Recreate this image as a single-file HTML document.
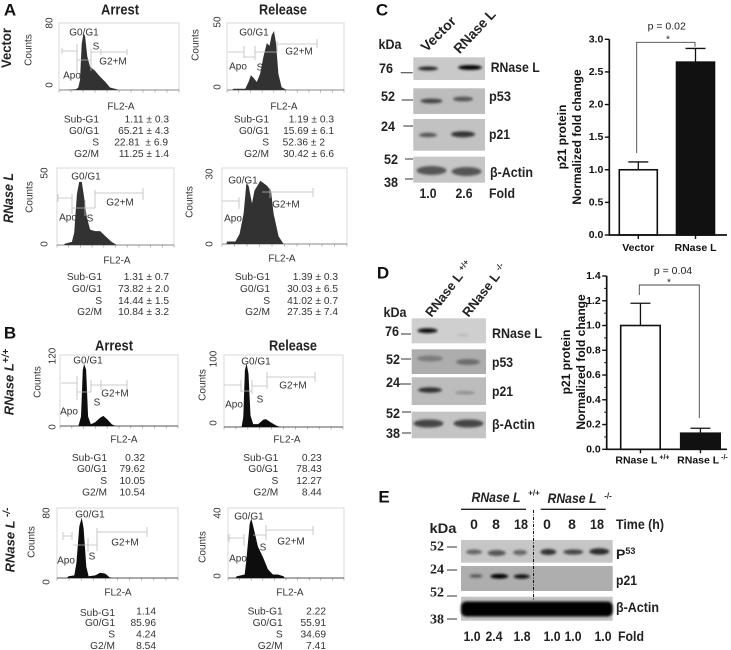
<!DOCTYPE html>
<html lang="en">
<head>
<meta charset="utf-8">
<title>Cell cycle and p21 figure</title>
<style>
html,body{margin:0;padding:0;background:#fff;width:731px;height:650px;overflow:hidden}
svg{display:block;filter:blur(0.3px)}
text{font-family:"Liberation Sans",Arial,sans-serif;dominant-baseline:central;fill:#222}
.h{font-size:10px;fill:#333}
.hm{font-size:10px;fill:#333;text-anchor:middle}
.s{font-size:10.2px;fill:#333;text-anchor:end}
.t{font-size:15px;font-weight:bold;text-anchor:middle;fill:#222}
.l{font-size:17px;font-weight:bold;text-anchor:middle;fill:#111}
.r{font-size:14px;font-weight:bold;font-style:italic;text-anchor:middle;fill:#222}
.b{font-size:14px;font-weight:bold;fill:#222}
.bm{font-size:14px;font-weight:bold;fill:#222;text-anchor:middle}
.sf{font-family:"Liberation Serif",serif;font-size:14px;font-weight:bold;text-anchor:middle;fill:#222}
.ax{font-size:10.5px;font-weight:bold;fill:#111;text-anchor:end}
.xl{font-size:10.5px;font-weight:bold;fill:#111;text-anchor:middle}
.yt{font-size:12px;font-weight:bold;fill:#111;text-anchor:middle}
.gate{fill:none;stroke:#bdbdbd;stroke-width:.8}
.tk{stroke:#333;stroke-width:1;fill:none}
</style>
</head>
<body>
<svg id="fig" xmlns="http://www.w3.org/2000/svg" width="731" height="650" viewBox="0 0 731 650">
<defs>
<filter id="b1" x="-40%" y="-80%" width="180%" height="260%"><feGaussianBlur stdDeviation="1.4"/></filter>
<filter id="b2" x="-40%" y="-80%" width="180%" height="260%"><feGaussianBlur stdDeviation="2.2"/></filter>
<filter id="b0" x="-5%" y="-5%" width="110%" height="110%"><feGaussianBlur stdDeviation="0.35"/></filter>
</defs>
<rect width="731" height="650" fill="#fff"/>

<!-- panel letters / titles -->
<text class="l" x="10" y="10">A</text>
<text class="l" x="10" y="333">B</text>
<text class="l" x="382" y="10">C</text>
<text class="l" x="383" y="273">D</text>
<text class="l" x="384" y="497">E</text>
<text class="t" x="120" y="10" textLength="38" lengthAdjust="spacingAndGlyphs">Arrest</text>
<text class="t" x="283" y="10" textLength="48" lengthAdjust="spacingAndGlyphs">Release</text>
<text class="t" x="114" y="346" textLength="38" lengthAdjust="spacingAndGlyphs">Arrest</text>
<text class="t" x="293" y="346" textLength="48" lengthAdjust="spacingAndGlyphs">Release</text>
<text class="r" style="font-style:normal" transform="translate(6 48) rotate(-90)" textLength="40" lengthAdjust="spacingAndGlyphs">Vector</text>
<text class="r" transform="translate(8 198) rotate(-90)" textLength="50" lengthAdjust="spacingAndGlyphs">RNase L</text>
<text class="r" style="font-size:13px" transform="translate(9 382) rotate(-90)">RNase L<tspan dy="-3" font-size="10">+/+</tspan></text>
<text class="r" style="font-size:13px" transform="translate(10 540) rotate(-90)">RNase L <tspan dy="-3" font-size="10">-/-</tspan></text>

<g id="histograms"></g>

<!-- gates -->
<g>
<path class="gate" d="M62 51H77M62 48v6M77 44v30M77 60H91M91 49v22M91 52H127M101 49v6M127 49v6"/>
<path class="gate" d="M228 52H244M244 46v12M244 57H255M255 46v14M255 52H277M277 41v12M277 44H317M317 39v9"/>
<path class="gate" d="M58 198H72M58 194v8M72 194v20M72 208H85M85 200v16M85 208H95M95 190v18M95 193H143M143 188v12"/>
<path class="gate" d="M222 201H239M239 197v12M262 192H313M313 188v9M270 188v10"/>
<path class="gate" d="M61 383H77M77 376v24M77 392H91M91 380v12M91 385H127M101 380v10M127 380v10"/>
<path class="gate" d="M224 385H241M241 380v12M241 391H252M252 380v14M252 386H267M267 372v17M267 377H315M315 372v10"/>
<path class="gate" d="M63 536H72M63 532v8M72 532v8M73 545H88M88 538v14M88 545H97M97 528v23M97 532H147M147 527v10"/>
<path class="gate" d="M229 538H244M229 534v8M244 534v12M253 535H266M266 525v15M266 530H313M313 526v9"/>
</g>

<!-- A1 labels -->
<g>
<text class="hm" x="84" y="33">G0/G1</text><text class="hm" x="96" y="47">S</text><text class="hm" x="113" y="62">G2+M</text><text class="hm" x="72" y="76">Apo</text>
<text class="hm" transform="translate(29 50) rotate(-90)">Counts</text><text class="hm" transform="translate(50 23) rotate(-90)">80</text><text class="hm" transform="translate(50 85) rotate(-90)">0</text><text class="hm" x="121" y="107">FL2-A</text>

<text class="hm" x="254" y="33">G0/G1</text><text class="hm" x="260" y="68">S</text><text class="hm" x="299" y="52">G2+M</text><text class="hm" x="238" y="67">Apo</text>
<text class="hm" transform="translate(196 45) rotate(-90)">Counts</text><text class="hm" transform="translate(218 22) rotate(-90)">50</text><text class="hm" transform="translate(218 87) rotate(-90)">0</text><text class="hm" x="284" y="107">FL2-A</text>

<text class="hm" x="86" y="177">G0/G1</text><text class="hm" x="90" y="219">S</text><text class="hm" x="120" y="203">G2+M</text><text class="hm" x="68" y="218">Apo</text>
<text class="hm" transform="translate(30 197) rotate(-90)">Counts</text><text class="hm" transform="translate(45 173) rotate(-90)">50</text><text class="hm" transform="translate(45 244) rotate(-90)">0</text><text class="hm" x="117" y="261">FL2-A</text>

<text class="hm" x="243" y="181">G0/G1</text><text class="hm" x="260" y="210">S</text><text class="hm" x="286" y="205">G2+M</text><text class="hm" x="233" y="219">Apo</text>
<text class="hm" transform="translate(190 202) rotate(-90)">Counts</text><text class="hm" transform="translate(210 174) rotate(-90)">30</text><text class="hm" transform="translate(210 244) rotate(-90)">0</text><text class="hm" x="282" y="259">FL2-A</text>

<text class="hm" x="88" y="361">G0/G1</text><text class="hm" x="97" y="403">S</text><text class="hm" x="115" y="394">G2+M</text><text class="hm" x="69" y="412">Apo</text>
<text class="hm" transform="translate(38 382) rotate(-90)">Counts</text><text class="hm" transform="translate(53 356) rotate(-90)">120</text><text class="hm" transform="translate(53 427) rotate(-90)">0</text><text class="hm" x="124" y="440">FL2-A</text>

<text class="hm" x="256" y="362">G0/G1</text><text class="hm" x="260" y="400">S</text><text class="hm" x="293" y="386">G2+M</text><text class="hm" x="234" y="405">Apo</text>
<text class="hm" transform="translate(203 385) rotate(-90)">Counts</text><text class="hm" transform="translate(214 359) rotate(-90)">100</text><text class="hm" transform="translate(214 423) rotate(-90)">0</text><text class="hm" x="287" y="440">FL2-A</text>

<text class="hm" x="90" y="515">G0/G1</text><text class="hm" x="92" y="557">S</text><text class="hm" x="125" y="543">G2+M</text><text class="hm" x="66" y="561">Apo</text>
<text class="hm" transform="translate(32 542) rotate(-90)">Counts</text><text class="hm" transform="translate(47 513) rotate(-90)">80</text><text class="hm" transform="translate(47 582) rotate(-90)">0</text><text class="hm" x="118" y="593">FL2-A</text>

<text class="hm" x="249" y="517">G0/G1</text><text class="hm" x="263" y="548">S</text><text class="hm" x="291" y="542">G2+M</text><text class="hm" x="238" y="559">Apo</text>
<text class="hm" transform="translate(203 547) rotate(-90)">Counts</text><text class="hm" transform="translate(218 513) rotate(-90)">40</text><text class="hm" transform="translate(218 576) rotate(-90)">0</text><text class="hm" x="290" y="593">FL2-A</text>
</g>

<!-- stats tables -->
<g>
<text class="s" x="99" y="120">Sub-G1</text><text class="s" x="169" y="120">1.11 ± 0.3</text>
<text class="s" x="99" y="131.3">G0/G1</text><text class="s" x="169" y="131.3">65.21 ± 4.3</text>
<text class="s" x="99" y="143">S</text><text class="s" x="168" y="143" xml:space="preserve">22.81  ± 6.9</text>
<text class="s" x="99" y="154.7">G2/M</text><text class="s" x="169" y="154.7">11.25 ± 1.4</text>
</g>
<g>
<text class="s" x="269" y="120">Sub-G1</text><text class="s" x="334" y="120">1.19 ± 0.3</text>
<text class="s" x="269" y="131.3">G0/G1</text><text class="s" x="334" y="131.3">15.69 ± 6.1</text>
<text class="s" x="269" y="143">S</text><text class="s" x="325" y="143">52.36 ± 2</text>
<text class="s" x="269" y="154.7">G2/M</text><text class="s" x="334" y="154.7">30.42 ± 6.6</text>
</g>
<g>
<text class="s" x="102" y="277.7">Sub-G1</text><text class="s" x="169" y="277.7">1.31 ± 0.7</text>
<text class="s" x="102" y="289.3">G0/G1</text><text class="s" x="169" y="289.3">73.82 ± 2.0</text>
<text class="s" x="102" y="301.3">S</text><text class="s" x="169" y="301.3">14.44 ± 1.5</text>
<text class="s" x="102" y="312.7">G2/M</text><text class="s" x="169" y="312.7">10.84 ± 3.2</text>
</g>
<g>
<text class="s" x="270" y="277.7">Sub-G1</text><text class="s" x="338" y="277.7">1.39 ± 0.3</text>
<text class="s" x="270" y="289.3">G0/G1</text><text class="s" x="338" y="289.3">30.03 ± 6.5</text>
<text class="s" x="270" y="301.3">S</text><text class="s" x="338" y="301.3">41.02 ± 0.7</text>
<text class="s" x="270" y="312.7">G2/M</text><text class="s" x="338" y="312.7">27.35 ± 7.4</text>
</g>
<g>
<text class="s" x="107" y="458.3">Sub-G1</text><text class="s" x="145" y="458.3">0.32</text>
<text class="s" x="107" y="469.7">G0/G1</text><text class="s" x="145" y="469.7">79.62</text>
<text class="s" x="107" y="481.3">S</text><text class="s" x="145" y="481.3">10.05</text>
<text class="s" x="107" y="493">G2/M</text><text class="s" x="145" y="493">10.54</text>
</g>
<g>
<text class="s" x="278.3" y="458.3">Sub-G1</text><text class="s" x="321.7" y="458.3">0.23</text>
<text class="s" x="278.3" y="469.7">G0/G1</text><text class="s" x="321.7" y="469.7">78.43</text>
<text class="s" x="278.3" y="481.3">S</text><text class="s" x="321.7" y="481.3">12.27</text>
<text class="s" x="278.3" y="493">G2/M</text><text class="s" x="321.7" y="493">8.44</text>
</g>
<g>
<text class="s" x="115" y="613.3">Sub-G1</text><text class="s" x="156" y="612">1.14</text>
<text class="s" x="115" y="623.3">G0/G1</text><text class="s" x="156" y="623.3">85.96</text>
<text class="s" x="115" y="635">S</text><text class="s" x="156" y="635">4.24</text>
<text class="s" x="115" y="646.7">G2/M</text><text class="s" x="156" y="646.7">8.54</text>
</g>
<g>
<text class="s" x="282.7" y="612">Sub-G1</text><text class="s" x="326" y="612">2.22</text>
<text class="s" x="282.7" y="623.3">G0/G1</text><text class="s" x="326" y="623.3">55.91</text>
<text class="s" x="282.7" y="635">S</text><text class="s" x="326" y="635">34.69</text>
<text class="s" x="282.7" y="646.7">G2/M</text><text class="s" x="326" y="646.7">7.41</text>
</g>

<!-- Panel C blot -->
<g>
<rect x="413.3" y="57.3" width="71.7" height="22.7" fill="#c9c9c9"/>
<ellipse cx="428" cy="68.5" rx="10" ry="2" fill="#222" filter="url(#b1)"/>
<ellipse cx="470" cy="67.5" rx="12" ry="2.4" fill="#000" filter="url(#b1)"/>
<rect x="413.3" y="88.3" width="71.7" height="25.7" fill="#bdbdbd"/>
<ellipse cx="431.5" cy="101" rx="11" ry="2.4" fill="#444" filter="url(#b1)"/>
<ellipse cx="463" cy="99" rx="10" ry="2.4" fill="#555" filter="url(#b1)"/>
<rect x="413.3" y="119" width="71.7" height="31.7" fill="#c2c2c2"/>
<ellipse cx="428" cy="135" rx="9" ry="2.2" fill="#555" filter="url(#b1)"/>
<ellipse cx="463" cy="134.3" rx="12" ry="3" fill="#333" filter="url(#b1)"/>
<rect x="413.3" y="156.7" width="71.7" height="26" fill="#c6c6c6"/>
<ellipse cx="431.5" cy="170.5" rx="15" ry="4.5" fill="#555" filter="url(#b1)"/>
<ellipse cx="466.5" cy="171.5" rx="15" ry="4.5" fill="#555" filter="url(#b1)"/>
<path class="tk" d="M400.7 72.7H412.7M401.7 100H413M403.3 126H413M405 159H413M405 179H413"/>
<text class="bm" x="390" y="44" textLength="23" lengthAdjust="spacingAndGlyphs">kDa</text>
<text class="bm" x="386" y="68" textLength="14" lengthAdjust="spacingAndGlyphs">76</text>
<text class="bm" x="388" y="96" textLength="14" lengthAdjust="spacingAndGlyphs">52</text>
<text class="bm" x="388" y="126" textLength="14" lengthAdjust="spacingAndGlyphs">24</text>
<text class="bm" x="391" y="159" textLength="14" lengthAdjust="spacingAndGlyphs">52</text>
<text class="bm" x="391" y="182" textLength="14" lengthAdjust="spacingAndGlyphs">38</text>
<text class="b" x="490.7" y="67" textLength="49" lengthAdjust="spacingAndGlyphs">RNase L</text>
<text class="b" x="489" y="96" textLength="22" lengthAdjust="spacingAndGlyphs">p53</text>
<text class="b" x="489" y="134" textLength="21" lengthAdjust="spacingAndGlyphs">p21</text>
<text class="b" x="490" y="172" textLength="43" lengthAdjust="spacingAndGlyphs">β-Actin</text>
<text class="bm" x="428" y="193" textLength="17" lengthAdjust="spacingAndGlyphs">1.0</text>
<text class="bm" x="464" y="193" textLength="17" lengthAdjust="spacingAndGlyphs">2.6</text>
<text class="b" x="489" y="193" textLength="26" lengthAdjust="spacingAndGlyphs">Fold</text>
<text class="b" transform="translate(423 49) rotate(-45)" textLength="43" lengthAdjust="spacingAndGlyphs">Vector</text>
<text class="b" transform="translate(456 51) rotate(-47)" textLength="54" lengthAdjust="spacingAndGlyphs">RNase L</text>
</g>

<!-- Panel D blot -->
<g>
<rect x="411.7" y="318.3" width="74.3" height="25" fill="#cfcfcf"/>
<ellipse cx="427.5" cy="330.7" rx="10" ry="2.4" fill="#111" filter="url(#b1)"/>
<ellipse cx="463" cy="335" rx="6" ry="1.5" fill="#bbb" filter="url(#b1)"/>
<rect x="411.7" y="349.3" width="74.3" height="24.7" fill="#adadad"/>
<ellipse cx="430" cy="358.5" rx="13" ry="3" fill="#7c7c7c" filter="url(#b1)"/>
<ellipse cx="468" cy="362" rx="12" ry="3" fill="#6c6c6c" filter="url(#b1)"/>
<rect x="411.7" y="377.3" width="74.3" height="27.7" fill="#bcbcbc"/>
<ellipse cx="430" cy="390" rx="12" ry="2.7" fill="#333" filter="url(#b1)"/>
<ellipse cx="465" cy="392.7" rx="10" ry="1.6" fill="#8c8c8c" filter="url(#b1)"/>
<rect x="411.7" y="411.7" width="74.3" height="26.6" fill="#c4c4c4"/>
<ellipse cx="428.5" cy="423.5" rx="15" ry="4" fill="#444" filter="url(#b1)"/>
<ellipse cx="468.5" cy="423.5" rx="15" ry="4" fill="#444" filter="url(#b1)"/>
<path class="tk" d="M401 334H411M401 359H411M400 384H411M402 412H411M402 433H411"/>
<text class="bm" x="395" y="312" textLength="23" lengthAdjust="spacingAndGlyphs">kDa</text>
<text class="bm" x="392" y="331" textLength="14" lengthAdjust="spacingAndGlyphs">76</text>
<text class="bm" x="393" y="359" textLength="14" lengthAdjust="spacingAndGlyphs">52</text>
<text class="bm" x="393" y="382" textLength="14" lengthAdjust="spacingAndGlyphs">24</text>
<text class="bm" x="393" y="413" textLength="14" lengthAdjust="spacingAndGlyphs">52</text>
<text class="bm" x="393" y="433" textLength="14" lengthAdjust="spacingAndGlyphs">38</text>
<text class="b" x="492" y="333" textLength="50" lengthAdjust="spacingAndGlyphs">RNase L</text>
<text class="b" x="492" y="362" textLength="21" lengthAdjust="spacingAndGlyphs">p53</text>
<text class="b" x="492" y="391" textLength="21" lengthAdjust="spacingAndGlyphs">p21</text>
<text class="b" x="492" y="424" textLength="43" lengthAdjust="spacingAndGlyphs">β-Actin</text>
<text class="b" style="font-size:13px" transform="translate(428 315) rotate(-52)">RNase L <tspan dy="-3" font-size="8">+/+</tspan></text>
<text class="b" style="font-size:13px" transform="translate(465 315) rotate(-52)">RNase L <tspan dy="-3" font-size="8">-/-</tspan></text>
</g>

<!-- Panel E blot -->
<g>
<rect x="461" y="540" width="151.7" height="22.7" fill="#c6c6c6"/>
<ellipse cx="474" cy="552" rx="8" ry="2.5" fill="#666" filter="url(#b1)"/>
<ellipse cx="496.7" cy="553" rx="9" ry="3" fill="#555" filter="url(#b1)"/>
<ellipse cx="520" cy="552.5" rx="7" ry="2.6" fill="#666" filter="url(#b1)"/>
<ellipse cx="548.3" cy="552" rx="8" ry="3" fill="#333" filter="url(#b1)"/>
<ellipse cx="573.3" cy="552" rx="10" ry="2.6" fill="#444" filter="url(#b1)"/>
<ellipse cx="599.3" cy="551.5" rx="10" ry="3.2" fill="#2a2a2a" filter="url(#b1)"/>
<rect x="461" y="566" width="151.7" height="25" fill="#aeaeae"/>
<ellipse cx="476" cy="576" rx="6.5" ry="1.8" fill="#555" filter="url(#b1)"/>
<ellipse cx="499.3" cy="576.3" rx="9" ry="2.4" fill="#000" filter="url(#b1)"/>
<ellipse cx="521.7" cy="576.5" rx="8" ry="2.1" fill="#111" filter="url(#b1)"/>
<rect x="461" y="596.7" width="151.7" height="24" fill="#c4c4c4"/>
<rect x="461" y="601.5" width="151.7" height="15" rx="5" fill="#000" filter="url(#b1)"/>
<path d="M533.5 510V600" stroke="#111" stroke-width="1" stroke-dasharray="3 1.5 1 1.5" fill="none"/>
<path d="M461 509.3H526M540.7 509.3H605.7" stroke="#222" stroke-width="1.3" fill="none"/>
<path class="tk" d="M447 547H457M447 570H457M447 596H457M447 619H457"/>
<text class="bm" style="font-style:italic" x="496" y="497" textLength="49" lengthAdjust="spacingAndGlyphs">RNase L</text>
<text x="534" y="493" font-size="8" font-weight="bold" text-anchor="middle">+/+</text>
<text class="bm" style="font-style:italic" x="572" y="498" textLength="49" lengthAdjust="spacingAndGlyphs">RNase L</text>
<text x="608" y="496" font-size="8" font-weight="bold" text-anchor="middle">-/-</text>
<text class="bm" x="474" y="524">0</text>
<text class="bm" x="496" y="524">8</text>
<text class="bm" x="521" y="524" textLength="14" lengthAdjust="spacingAndGlyphs">18</text>
<text class="bm" x="547" y="524">0</text>
<text class="bm" x="572" y="524">8</text>
<text class="bm" x="597" y="524" textLength="14" lengthAdjust="spacingAndGlyphs">18</text>
<text class="b" x="616" y="524" textLength="48" lengthAdjust="spacingAndGlyphs">Time (h)</text>
<text class="bm" x="443" y="528" textLength="27" lengthAdjust="spacingAndGlyphs">kDa</text>
<text class="sf" x="437" y="547">52</text>
<text class="sf" x="437" y="570">24</text>
<text class="sf" x="437" y="593">52</text>
<text class="sf" x="437" y="620">38</text>
<text class="b" x="616" y="554">P<tspan dy="-3" font-size="9">53</tspan></text>
<text class="b" x="616" y="580" textLength="21" lengthAdjust="spacingAndGlyphs">p21</text>
<text class="b" x="616" y="607" textLength="43" lengthAdjust="spacingAndGlyphs">β-Actin</text>
<text class="bm" x="472" y="636" textLength="17" lengthAdjust="spacingAndGlyphs">1.0</text>
<text class="bm" x="494" y="636" textLength="17" lengthAdjust="spacingAndGlyphs">2.4</text>
<text class="bm" x="522" y="636" textLength="17" lengthAdjust="spacingAndGlyphs">1.8</text>
<text class="bm" x="552" y="636" textLength="17" lengthAdjust="spacingAndGlyphs">1.0</text>
<text class="bm" x="573" y="636" textLength="17" lengthAdjust="spacingAndGlyphs">1.0</text>
<text class="bm" x="603" y="636" textLength="17" lengthAdjust="spacingAndGlyphs">1.0</text>
<text class="b" x="618" y="636" textLength="26" lengthAdjust="spacingAndGlyphs">Fold</text>
</g>

<g id="bar-c"></g>
<g id="bar-d"></g>
</svg>

<script>
// Flow cytometry histograms: FL2-A channel (0-1000) and counts
var a1Channels=[42,142,161,175,189,203,217,236,258,300,342,384,425,481,495];
var a1Counts=[0,1,3,12,55,67,65,40,28,23,16,10,3,1,0];
var a2Channels=[42,57,156,184,204,227,255,283,312,340,363,382,402,419,439,467,510];
var a2Counts=[0,1,1,6,11,9,6,12,25,35,33,41,44,35,12,2,0];
var a3Channels=[57,71,127,147,170,190,212,232,255,283,325,368,410,467,510];
var a3Counts=[0,1,2,8,33,41,41,31,18,10,9,9,6,2,0];
var a4Channels=[35,40,107,141,173,195,213,240,259,307,360,392,413,453,493];
var a4Counts=[0,1,1,4,12,24,23,16,21,25,23,21,12,3,0];
var b1Channels=[156,178,193,204,221,238,261,297,340,368,402,439,467];
var b1Counts=[0,16,95,105,95,16,3,6,14,17,11,3,0];
var b2Channels=[148,162,176,190,206,223,245,287,329,351,398,440,474];
var b2Counts=[0,14,79,88,74,16,4,4,10,11,6,2,0];
var b3Channels=[82,96,143,160,184,204,220,242,261,316,357,399,432,454];
var b3Counts=[0,2,3,17,59,69,57,13,2,3,6,5,1,0];
var b4Channels=[63,77,144,158,187,201,230,258,301,344,387,430,479,488];
var b4Counts=[0,1,2,10,31,34,26,18,12,5,2,2,1,0];
var yMaxA1=80,yMaxA2=50,yMaxA3=50,yMaxA4=30,yMaxB1=120,yMaxB2=100,yMaxB3=80,yMaxB4=40;

// Bar chart C
var cCategories=['Vector','RNase L'];
var cValues=[1.0,2.65];
var cErrors=[0.12,0.21];
var cTicks=['0.0','0.5','1.0','1.5','2.0','2.5','3.0'];
// Bar chart D
var dCategories=['RNase L','RNase L'];
var dSuffixes=['+/+','-/-'];
var dValues=[1.0,0.13];
var dErrors=[0.18,0.04];
var dTicks=['0.0','0.2','0.4','0.6','0.8','1.0','1.2','1.4'];

var NS='http://www.w3.org/2000/svg';
function mk(tag,parent,attrs,txt){
  var e=document.createElementNS(NS,tag);
  for(var k in attrs){e.setAttribute(k,attrs[k]);}
  if(txt!==undefined){e.textContent=txt;}
  parent.appendChild(e);
  return e;
}

function drawHistogram(key,channels,counts,yMax,left,right,top,bottom,color,axisColor){
  var root=document.getElementById('histograms');
  var g=mk('g',root,{});
  
  
  var sx=function(c){return left+(right-left)*c/1000;};
  var sy=function(v){return bottom-(bottom-top)*v/yMax;};
  var frame=mk('path',g,{d:'M'+left+' '+bottom+'V'+top+'H'+right+'V'+bottom,fill:'none',stroke:'#d8d8d8','stroke-width':1});
  
  
  var ticks='';
  for(var t=0;t<=10;t++){ticks+='M'+sx(t*100).toFixed(1)+' '+bottom+'v2.5';}
  var tk=mk('path',g,{d:ticks,fill:'none',stroke:'#999','stroke-width':.7});
  
  
  var base=mk('line',g,{x1:left,x2:right,y1:bottom,y2:bottom,stroke:axisColor,'stroke-width':.9});
  
  
  var d='M'+sx(channels[0]).toFixed(1)+' '+bottom;
  for(var i=0;i<channels.length;i++){d+='L'+sx(channels[i]).toFixed(1)+' '+sy(counts[i]).toFixed(1);}
  d+='L'+sx(channels[channels.length-1]).toFixed(1)+' '+bottom+'Z';
  var area=mk('path',g,{d:d,fill:color,filter:'url(#b0)'});
  
  
}
drawHistogram('a1',a1Channels,a1Counts,yMaxA1,59,179,23,90,'#333','#888');
drawHistogram('a2',a2Channels,a2Counts,yMaxA2,227,344,23,90,'#333','#888');
drawHistogram('a3',a3Channels,a3Counts,yMaxA3,57,174,168,245,'#333','#888');
drawHistogram('a4',a4Channels,a4Counts,yMaxA4,222,347,168,244,'#333','#888');
drawHistogram('b1',b1Channels,b1Counts,yMaxB1,60,178,355,426,'#111','#555');
drawHistogram('b2',b2Channels,b2Counts,yMaxB2,224,343,355,427,'#111','#555');
drawHistogram('b3',b3Channels,b3Counts,yMaxB3,57,178,508,578,'#111','#555');
drawHistogram('b4',b4Channels,b4Counts,yMaxB4,228,344,508,578,'#111','#555');

function drawBars(id,prefix,cats,suffixes,vals,errs,tickLabels,minor,axisX,axisEnd,yTop,yBottom,barLefts,barW,fills){
  var root=document.getElementById(id);
  var tv=tickLabels.map(Number);
  var maxV=tv[tv.length-1];
  var sy=function(v){return yBottom-(yBottom-yTop)*v/maxV;};
  var i;
  for(i=0;i<vals.length;i++){
    var top=sy(vals[i]),eTop=sy(vals[i]+errs[i]),cx=barLefts[i]+barW/2;
    var err=mk('path',root,{d:'M'+cx+' '+top+'V'+eTop+'M'+(cx-10)+' '+eTop+'H'+(cx+10),fill:'none',stroke:'#111','stroke-width':1.3});
    
    
    var bar=mk('rect',root,{x:barLefts[i],y:top,width:barW,height:yBottom-top,fill:fills[i],stroke:'#111','stroke-width':1.6});
    
    
    var xt=mk('line',root,{x1:cx,x2:cx,y1:yBottom,y2:yBottom+4,stroke:'#111','stroke-width':1.4});
    
    
    var lab=mk('text',root,{'class':'xl',x:cx+(suffixes?2:0),y:yBottom+(suffixes?11:13)},cats[i]);
    
    
    if(suffixes){
      var sp=mk('tspan',lab,{dy:-3,'font-size':7},' '+suffixes[i]);
      
      
    }
  }
  var axis=mk('path',root,{d:'M'+axisX+' '+yTop+'V'+yBottom+'H'+axisEnd,fill:'none',stroke:'#111','stroke-width':1.7});
  
  
  for(i=0;i<tv.length;i++){
    var y=sy(tv[i]);
    var tk=mk('line',root,{x1:axisX-4.5,x2:axisX,y1:y,y2:y,stroke:'#111','stroke-width':1.4});
    
    
    var tl=mk('text',root,{'class':'ax',x:axisX-6,y:y},tickLabels[i]);
    
    
    if(minor&&i<tv.length-1){
      var my=sy((tv[i]+tv[i+1])/2);
      var mt=mk('line',root,{x1:axisX-2.5,x2:axisX,y1:my,y2:my,stroke:'#111','stroke-width':1});
      
      
    }
  }
}
drawBars('bar-c','c',cCategories,null,cValues,cErrors,cTicks,false,609.3,727,39.3,235,[619.3,676.5],38,['#fff','#111']);
drawBars('bar-d','d',dCategories,dSuffixes,dValues,dErrors,dTicks,true,606.7,727,276,449.3,[620.7,680.7],39.5,['#fff','#111']);

function annotate(id,prefix,path,pText,px,py,sx,sy,t1x,t2x,ty){
  var root=document.getElementById(id);
  var br=mk('path',root,{d:path,fill:'none',stroke:'#444','stroke-width':.9});
  
  
  var p=mk('text',root,{x:px,y:py,'font-size':10.5,'text-anchor':'middle',fill:'#444'},pText);
  
  
  var st=mk('text',root,{x:sx,y:sy,'font-size':10,'text-anchor':'middle'},'*');
  
  
  var a=mk('text',root,{'class':'yt',transform:'translate('+t1x+' '+ty+') rotate(-90)'},'p21 protein');
  
  
  var b=mk('text',root,{'class':'yt',transform:'translate('+t2x+' '+ty+') rotate(-90)'},'Normalized fold change');
  
  
}
annotate('bar-c','c','M636.7 153V42.3H695V46.7','p = 0.02',666.7,26.5,668,40,562,577,137);
annotate('bar-d','d','M639.3 295V285H699.3V418','p = 0.04',673,271,669,283,566,581,362);
</script>
</body>
</html>
